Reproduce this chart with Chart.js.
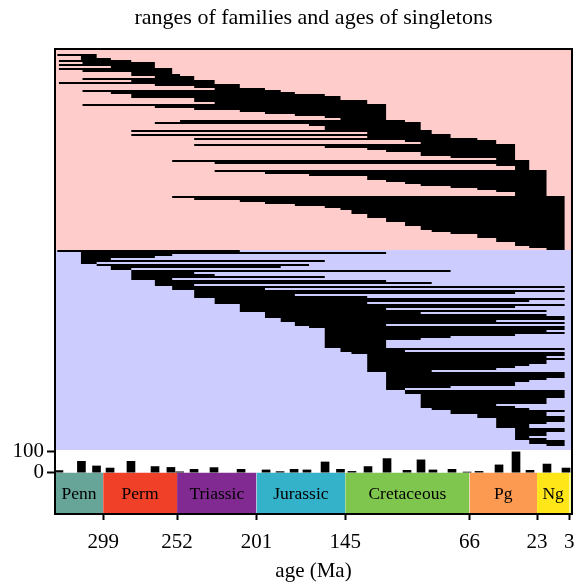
<!DOCTYPE html>
<html>
<head>
<meta charset="utf-8">
<script src="https://cdn.jsdelivr.net/npm/chart.js@4.4.1/dist/chart.umd.min.js"></script>
<style>
  html, body { margin: 0; padding: 0; background: #fff; }
  #wrap { width: 574px; height: 582px; }
</style>
</head>
<body>
<div id="wrap"><canvas id="chart" width="574" height="582"></canvas></div>
<script>
// ---- data (ages in Ma) ----
// upper (pink) block: one row per range, first and last appearance
const upperFirst = [328, 313, 313, 327, 312, 327, 294, 327, 312, 281,
                    281, 266, 312, 281, 327, 266, 241, 228, 312, 294,
                    281, 281, 241, 241, 228, 312, 266, 241, 212, 196,
                    177, 158, 148, 250, 266, 168, 158, 158, 281, 131,
                    281, 131, 241, 107, 97, 241, 158, 131, 119, 97,
                    97, 78, 49, 255, 228, 49, 37, 37, 228, 196,
                    168, 131, 131, 119, 107, 97, 78, 61, 49, 37,
                    37, 255, 241, 212, 196, 177, 158, 148, 141, 141,
                    131, 131, 119, 119, 107, 107, 97, 97, 90, 78,
                    61, 61, 49, 49, 37, 37, 28, 17];
const upperLast = [303, 303, 294, 281, 266, 266, 266, 255, 255, 255,
                   250, 241, 241, 228, 228, 212, 212, 196, 186, 177,
                   158, 148, 148, 131, 131, 119, 119, 119, 119, 119,
                   119, 119, 119, 107, 97, 97, 97, 97, 90, 90,
                   78, 78, 61, 49, 49, 37, 37, 37, 37, 37,
                   37, 37, 37, 28, 28, 28, 28, 28, 17, 17,
                   17, 17, 17, 17, 17, 17, 17, 17, 17, 17,
                   17, 5.5, 5.5, 5.5, 5.5, 5.5, 5.5, 5.5, 5.5, 5.5,
                   5.5, 5.5, 5.5, 5.5, 5.5, 5.5, 5.5, 5.5, 5.5, 5.5,
                   5.5, 5.5, 5.5, 5.5, 5.5, 5.5, 5.5, 5.5];

// lower (lavender) block
const lowerFirst = [328, 313, 313, 313, 313, 313, 313, 303, 294, 294,
                    281, 281, 281, 281, 281, 266, 266, 266, 255, 255,
                    241, 241, 241, 241, 228, 228, 228, 212, 212, 212,
                    212, 196, 196, 196, 186, 186, 177, 177, 168, 158,
                    158, 158, 158, 158, 158, 158, 158, 158, 158, 148,
                    148, 141, 131, 131, 131, 131, 131, 131, 131, 131,
                    131, 119, 119, 119, 119, 119, 119, 119, 119, 119,
                    107, 107, 97, 97, 97, 97, 97, 97, 97, 90,
                    78, 78, 61, 61, 49, 49, 49, 49, 49, 37,
                    37, 37, 37, 37, 37, 28, 28, 17];
const lowerLast = [212, 119, 255, 266, 294, 158, 303, 168, 186, 281,
                   78, 241, 228, 158, 255, 119, 90, 241, 5.5, 196,
                   5.5, 37, 177, 131, 5.5, 28, 131, 5.5, 37, 119,
                   17, 97, 17, 5.5, 5.5, 49, 5.5, 119, 5.5, 5.5,
                   17, 5.5, 37, 78, 97, 119, 119, 119, 119, 5.5,
                   107, 5.5, 5.5, 17, 5.5, 17, 17, 28, 37, 49,
                   90, 5.5, 5.5, 5.5, 17, 28, 37, 37, 78, 107,
                   5.5, 5.5, 5.5, 5.5, 17, 17, 17, 49, 37, 28,
                   5.5, 17, 17, 5.5, 5.5, 5.5, 17, 28, 28, 5.5,
                   5.5, 17, 17, 28, 17, 5.5, 5.5, 5.5];

// singleton counts per time bin
const histAges = [327, 312.7, 303.1, 294.5, 281.2, 265.9, 255.8, 250.2, 241.1, 228.4,
                  211.2, 195.3, 186.4, 177.5, 169.3, 157.8, 148, 140.7, 130.5, 118.4,
                  105.7, 96.8, 89.2, 77.1, 67.5, 59.9, 47.2, 36.4, 27.5, 16.7, 4.6];
const histCounts = [10, 54, 32, 22, 54, 29, 25, 4, 16, 24,
                    16, 13, 5, 16, 13, 51, 16, 6, 29, 67,
                    11, 61, 13, 16, 3, 6, 37, 99, 11, 41, 22];
const histTicks = [0, 100];

// geological periods
const periodNames = ['Penn', 'Perm', 'Triassic', 'Jurassic', 'Cretaceous', 'Pg', 'Ng', ''];
const periodStart = [330, 298.9, 251.9, 201.4, 145, 66, 23.03, 2.58];
const periodEnd = [298.9, 251.9, 201.4, 145, 66, 23.03, 2.58, 0];
const periodColors = ['#67A599', '#F04028', '#812B92', '#34B2C9', '#7FC64E', '#FD9A52', '#FFE619', '#F9F97F'];

const tickAges = [298.9, 251.9, 201.4, 145, 66, 23.03, 2.58];
const tickLabels = ['299', '252', '201', '145', '66', '23', '3'];

const SERIF = "'Liberation Serif', 'Times New Roman', serif";
const LOWER_OFFSET = upperFirst.length;
const BAND_BOTTOM = -197;

// each range becomes a segment, separated by a gap
function rangeLine(first, last, offset) {
    const pts = [];
    first.forEach((f, i) => {
        pts.push({ x: f, y: i + offset }, { x: last[i], y: i + offset }, { x: last[i], y: null });
    });
    return pts;
}

// pink / lavender shading behind the ranges
const shading = {
    id: 'shading',
    beforeDatasetsDraw(chart) {
        const { ctx, chartArea: a, scales: { yRows } } = chart;
        const mid = yRows.getPixelForValue(LOWER_OFFSET - 0.5);
        ctx.save();
        ctx.fillStyle = '#FFCCCC';
        ctx.fillRect(a.left, yRows.top, a.width, mid - yRows.top);
        ctx.fillStyle = '#CCCCFF';
        ctx.fillRect(a.left, mid, a.width, yRows.bottom - mid);
        ctx.restore();
    }
};

// period names inside the time band + outer frame
const bandLabels = {
    id: 'bandLabels',
    afterDraw(chart) {
        const { ctx, chartArea: a, scales: { x, yLow } } = chart;
        const yMid = (yLow.getPixelForValue(0) + yLow.getPixelForValue(BAND_BOTTOM)) / 2;
        ctx.save();
        ctx.font = '17.5px ' + SERIF;
        ctx.fillStyle = '#000';
        ctx.textAlign = 'center';
        ctx.textBaseline = 'middle';
        periodNames.forEach((name, i) => {
            if (!name) return;
            const l = Math.max(a.left, x.getPixelForValue(periodStart[i]));
            const r = Math.min(a.right, x.getPixelForValue(periodEnd[i]));
            ctx.fillText(name, (l + r) / 2, yMid + 1);
        });
        ctx.strokeStyle = '#000';
        ctx.lineWidth = 2;
        ctx.strokeRect(a.left, a.top, a.width, a.height);
        ctx.restore();
    }
};

const datasets = [
    {
        type: 'line',
        data: rangeLine(upperFirst, upperLast, 0),
        borderColor: '#000',
        borderWidth: 2,
        borderCapStyle: 'butt',
        pointRadius: 0,
        spanGaps: false,
        yAxisID: 'yRows',
        order: 0
    },
    {
        type: 'line',
        data: rangeLine(lowerFirst, lowerLast, LOWER_OFFSET),
        borderColor: '#000',
        borderWidth: 2,
        borderCapStyle: 'butt',
        pointRadius: 0,
        spanGaps: false,
        yAxisID: 'yRows',
        order: 0
    },
    {
        type: 'bar',
        data: histAges.map((a, i) => ({ x: a, y: histCounts[i] })),
        backgroundColor: '#000',
        barThickness: 8,
        yAxisID: 'yLow',
        order: 1
    }
];

periodNames.forEach((name, i) => {
    datasets.push({
        type: 'line',
        data: [{ x: periodStart[i], y: 0 }, { x: periodEnd[i], y: 0 }],
        borderWidth: 0,
        pointRadius: 0,
        backgroundColor: periodColors[i],
        fill: { value: BAND_BOTTOM },
        yAxisID: 'yLow',
        order: 5
    });
});

new Chart(document.getElementById('chart'), {
    type: 'line',
    data: { datasets },
    plugins: [shading, bandLabels],
    options: {
        responsive: false,
        maintainAspectRatio: false,
        devicePixelRatio: 1,
        animation: false,
        layout: { padding: { left: 0, right: 2, top: 0, bottom: 0 } },
        plugins: {
            legend: { display: false },
            tooltip: { enabled: false },
            title: {
                display: true,
                text: 'ranges of families and ages of singletons',
                fullSize: false,
                color: '#000',
                font: { family: SERIF, size: 22, weight: 'normal', lineHeight: 1 },
                padding: { top: 7, bottom: 20 }
            }
        },
        scales: {
            x: {
                type: 'linear',
                reverse: true,
                min: 0.8,
                max: 329.5,
                offset: false,
                afterBuildTicks: s => { s.ticks = tickAges.map(v => ({ value: v })); },
                afterFit: s => { s.height = 68; s.paddingLeft = 0; s.paddingRight = 0; },
                ticks: {
                    autoSkip: false,
                    maxRotation: 0,
                    color: '#000',
                    padding: 10,
                    font: { family: SERIF, size: 21 },
                    callback: (v, i) => tickLabels[i]
                },
                grid: { offset: false, drawOnChartArea: false, tickLength: 6, tickColor: '#000', tickWidth: 2 },
                border: { display: false },
                title: {
                    display: true,
                    text: 'age (Ma)',
                    color: '#000',
                    font: { family: SERIF, size: 21, lineHeight: 1 },
                    padding: { top: 0, bottom: 0 }
                }
            },
            yLow: {
                type: 'linear',
                position: 'left',
                stack: 'main',
                stackWeight: 64,
                min: BAND_BOTTOM,
                max: 108,
                afterBuildTicks: s => { s.ticks = histTicks.map(v => ({ value: v })); },
                afterFit: s => { s.width = 55; s.paddingTop = 0; s.paddingBottom = 0; },
                ticks: { color: '#000', padding: 3, font: { family: SERIF, size: 21 } },
                grid: { drawOnChartArea: false, tickLength: 8, tickColor: '#000', tickWidth: 2 },
                border: { display: false }
            },
            yRows: {
                type: 'linear',
                position: 'left',
                stack: 'main',
                stackWeight: 401,
                reverse: true,
                min: -3,
                max: 197.5,
                afterFit: s => { s.width = 55; },
                ticks: { display: false },
                grid: { display: false },
                border: { display: false }
            }
        }
    }
});
</script>
</body>
</html>
